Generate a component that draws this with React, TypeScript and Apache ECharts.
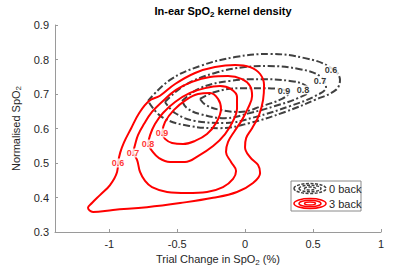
import React, { useEffect, useRef } from "react";
import * as echarts from "echarts";

// ---- Tick values ----
const xTicks = [-1, -0.5, 0, 0.5, 1];
const yTicks = [0.3, 0.4, 0.5, 0.6, 0.7, 0.8, 0.9];

// ---- Contour levels ----
const levels = ["0.6", "0.7", "0.8", "0.9"];

// ---- 0 back contours (x: trial change in SpO2, y: normalised SpO2) ----
const back0Level06 = [
  [-0.715, 0.68], [-0.553, 0.741], [-0.333, 0.781], [-0.075, 0.807], [0.183, 0.816],
  [0.44, 0.804], [0.624, 0.778], [0.698, 0.741], [0.668, 0.712], [0.514, 0.683],
  [0.293, 0.648], [0.035, 0.616], [-0.186, 0.601], [-0.406, 0.607], [-0.612, 0.633],
  [-0.715, 0.68],
];
const back0Level07 = [
  [-0.59, 0.677], [-0.443, 0.726], [-0.222, 0.761], [-0.002, 0.778], [0.168, 0.781],
  [0.403, 0.772], [0.55, 0.752], [0.595, 0.72], [0.514, 0.694], [0.33, 0.665],
  [0.072, 0.633], [-0.149, 0.616], [-0.37, 0.622], [-0.517, 0.645], [-0.59, 0.677],
];
const back0Level08 = [
  [-0.465, 0.68], [-0.333, 0.717], [-0.112, 0.738], [0.124, 0.743], [0.33, 0.738],
  [0.44, 0.726], [0.469, 0.709], [0.388, 0.688], [0.219, 0.665], [0.035, 0.645],
  [-0.149, 0.63], [-0.333, 0.642], [-0.428, 0.659], [-0.465, 0.68],
];
const back0Level09 = [
  [-0.333, 0.686], [-0.222, 0.706], [-0.038, 0.717], [0.124, 0.717], [0.256, 0.714],
  [0.322, 0.703], [0.271, 0.686], [0.124, 0.665], [-0.038, 0.648], [-0.186, 0.654],
  [-0.289, 0.668], [-0.333, 0.686],
];

// ---- 3 back contours ----
const back3Level06 = [
  [-0.936, 0.5], [-0.943, 0.474], [-0.995, 0.436], [-1.069, 0.407], [-1.128, 0.384],
  [-1.157, 0.37], [-1.12, 0.358], [-0.973, 0.364], [-0.723, 0.372], [-0.479, 0.384],
  [-0.236, 0.399], [-0.06, 0.416], [0.058, 0.442], [0.11, 0.471], [0.095, 0.494],
  [0.036, 0.517], [-0.001, 0.546], [0.007, 0.572], [0.051, 0.601], [0.102, 0.639],
  [0.132, 0.683], [0.139, 0.726], [0.11, 0.758], [0.036, 0.778], [-0.074, 0.784],
  [-0.222, 0.778], [-0.369, 0.761], [-0.516, 0.729], [-0.627, 0.695], [-0.708, 0.68],
  [-0.78, 0.645], [-0.84, 0.6], [-0.892, 0.56], [-0.92, 0.53], [-0.936, 0.5],
];
const back3Level07 = [
  [-0.826, 0.529], [-0.811, 0.552], [-0.789, 0.581], [-0.745, 0.613], [-0.686, 0.648],
  [-0.605, 0.68], [-0.509, 0.712], [-0.391, 0.735], [-0.259, 0.749], [-0.126, 0.752],
  [-0.023, 0.743], [0.036, 0.723], [0.051, 0.694], [0.021, 0.659], [-0.023, 0.625],
  [-0.082, 0.59], [-0.126, 0.561], [-0.141, 0.532], [-0.104, 0.503], [-0.067, 0.477],
  [-0.089, 0.454], [-0.163, 0.43], [-0.281, 0.416], [-0.428, 0.413], [-0.575, 0.416],
  [-0.686, 0.43], [-0.737, 0.448], [-0.774, 0.474], [-0.796, 0.509], [-0.826, 0.529],
];
const back3Level08 = [
  [-0.715, 0.555], [-0.7, 0.581], [-0.664, 0.613], [-0.605, 0.645], [-0.516, 0.677],
  [-0.406, 0.703], [-0.295, 0.717], [-0.185, 0.723], [-0.104, 0.714], [-0.06, 0.691],
  [-0.06, 0.659], [-0.089, 0.622], [-0.148, 0.584], [-0.236, 0.549], [-0.347, 0.52],
  [-0.443, 0.503], [-0.553, 0.503], [-0.634, 0.514], [-0.686, 0.535], [-0.715, 0.555],
];
const back3Level09 = [
  [-0.612, 0.587], [-0.59, 0.619], [-0.524, 0.654], [-0.435, 0.683], [-0.347, 0.7],
  [-0.259, 0.703], [-0.2, 0.686], [-0.178, 0.657], [-0.214, 0.616], [-0.281, 0.584],
  [-0.369, 0.564], [-0.457, 0.555], [-0.538, 0.558], [-0.59, 0.57], [-0.612, 0.587],
];

// ---- Inline contour label anchors ----
const back0LabelPos = [
  [0.632, 0.77], [0.551, 0.738], [0.426, 0.712], [0.286, 0.709],
];
const back3LabelPos = [
  [-0.936, 0.5], [-0.826, 0.529], [-0.715, 0.555], [-0.612, 0.587],
];

const FONT = '"Liberation Sans", Arial, sans-serif';
const GRAY = "#404040";
const RED = "#ff0000";

export default function App() {
  const ref = useRef<HTMLDivElement>(null);

  useEffect(() => {
    if (!ref.current) return;
    const chart = echarts.init(ref.current, null, { renderer: "svg" });

    const blackDash = [7, 2.5, 2, 2.5];
    const mkLine = (name: string, data: number[][], color: string, dashed: boolean) => ({
      type: "line",
      name,
      data,
      smooth: 0.4,
      showSymbol: false,
      symbol: "none",
      silent: true,
      z: dashed ? 2 : 3,
      lineStyle: { color, width: 2, type: dashed ? blackDash : "solid" },
    });

    const mkLabels = (pos: number[][], color: string) => ({
      type: "scatter",
      data: pos.map((p, i) => ({ value: p, name: levels[i] })),
      symbolSize: 1,
      silent: true,
      z: 5,
      itemStyle: { color: "transparent" },
      label: {
        show: true,
        position: "inside",
        formatter: "{b}",
        color,
        fontSize: 9,
        fontWeight: "bold",
        fontFamily: FONT,
        backgroundColor: "#fff",
        padding: [0, 1],
      },
    });

    const rich = {
      sub: { fontSize: 8, padding: [6, 0, 0, 0], fontFamily: FONT, color: "#262626" },
    };

    chart.setOption({
      animation: false,
      title: {
        text: "In-ear SpO{sub|2} kernel density",
        left: 218,
        textAlign: "center",
        top: -1,
        textStyle: {
          fontSize: 11,
          fontWeight: "bold",
          fontFamily: FONT,
          color: "#000",
          rich: { sub: { fontSize: 8, fontWeight: "bold", padding: [6, 0, 0, 0], fontFamily: FONT, color: "#000" } },
        },
      },
      grid: { left: 55, right: 34, top: 25, bottom: 41 },
      xAxis: {
        type: "value",
        min: -1.4,
        max: 1,
        name: "Trial Change in SpO{sub|2} (%)",
        nameLocation: "middle",
        nameGap: 19,
        nameTextStyle: { fontSize: 11, fontFamily: FONT, color: "#262626", rich },
        axisLine: { show: true, onZero: false, lineStyle: { color: "#9a9a9a", width: 1 } },
        axisTick: { show: true, inside: true, length: 3, customValues: xTicks, lineStyle: { color: "#9a9a9a" } },
        axisLabel: {
          customValues: xTicks,
          color: "#262626",
          fontSize: 11,
          fontFamily: FONT,
          margin: 6,
          formatter: (v: number) => String(v),
        },
        splitLine: { show: false },
      },
      yAxis: {
        type: "value",
        min: 0.3,
        max: 0.9,
        name: "Normalised SpO{sub|2}",
        nameLocation: "middle",
        nameGap: 23,
        nameTextStyle: { fontSize: 11, fontFamily: FONT, color: "#262626", rich },
        axisLine: { show: true, onZero: false, lineStyle: { color: "#9a9a9a", width: 1 } },
        axisTick: { show: true, inside: true, length: 3, customValues: yTicks, lineStyle: { color: "#9a9a9a" } },
        axisLabel: {
          customValues: yTicks,
          color: "#262626",
          fontSize: 11,
          fontFamily: FONT,
          margin: 6,
          formatter: (v: number) => v.toFixed(1),
        },
        splitLine: { show: false },
      },
      series: [
        mkLine("0 back", back0Level06, GRAY, true),
        mkLine("0 back", back0Level07, GRAY, true),
        mkLine("0 back", back0Level08, GRAY, true),
        mkLine("0 back", back0Level09, GRAY, true),
        mkLine("3 back", back3Level06, RED, false),
        mkLine("3 back", back3Level07, RED, false),
        mkLine("3 back", back3Level08, RED, false),
        mkLine("3 back", back3Level09, RED, false),
        mkLabels(back0LabelPos, "#000"),
        mkLabels(back3LabelPos, RED),
      ],
      graphic: [
        {
          type: "rect",
          shape: { x: 291, y: 181, width: 70, height: 30 },
          style: { fill: "#fff", stroke: "#8a8a8a", lineWidth: 1 },
          z: 10,
        },
        ...[16, 11, 5.5].map((rx, i) => ({
          type: "ellipse",
          shape: { cx: 310, cy: 188.5, rx, ry: [5, 3.3, 1.5][i] },
          style: { fill: "none", stroke: GRAY, lineWidth: 1.5, lineDash: [3, 1.5] },
          z: 11,
        })),
        ...[16, 11, 5.5].map((rx, i) => ({
          type: "ellipse",
          shape: { cx: 310, cy: 203.5, rx, ry: [5, 3.3, 1.5][i] },
          style: { fill: "none", stroke: RED, lineWidth: 1.5 },
          z: 11,
        })),
        {
          type: "text",
          x: 329,
          y: 189,
          style: { text: "0 back", fill: "#262626", fontSize: 11, fontFamily: FONT, verticalAlign: "middle" },
          z: 11,
        },
        {
          type: "text",
          x: 329,
          y: 204,
          style: { text: "3 back", fill: "#262626", fontSize: 11, fontFamily: FONT, verticalAlign: "middle" },
          z: 11,
        },
      ],
    });

    return () => chart.dispose();
  }, []);

  return (
    <div
      ref={ref}
      style={{ position: "fixed", left: 0, top: 0, width: 415, height: 273, background: "#fff" }}
    />
  );
}
